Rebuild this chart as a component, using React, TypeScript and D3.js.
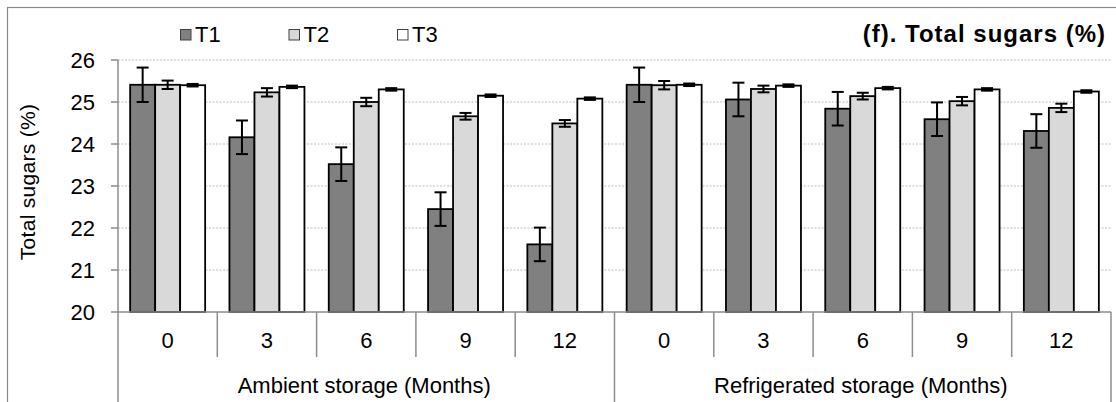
import React from "react";
import * as d3 from "d3";

const months = ["0", "3", "6", "9", "12"];
const groups = ["Ambient storage (Months)", "Refrigerated storage (Months)"];
const seriesNames = ["T1", "T2", "T3"];
const seriesColors = ["#808080", "#d9d9d9", "#ffffff"];

const t1Values = [25.41, 24.16, 23.52, 22.45, 21.61, 25.41, 25.06, 24.84, 24.59, 24.31];
const t2Values = [25.41, 25.23, 25.0, 24.66, 24.49, 25.4, 25.31, 25.14, 25.02, 24.86];
const t3Values = [25.4, 25.36, 25.3, 25.15, 25.08, 25.41, 25.39, 25.33, 25.3, 25.25];

const t1Errors = [0.41, 0.4, 0.4, 0.4, 0.4, 0.41, 0.4, 0.4, 0.4, 0.4];
const t2Errors = [0.1, 0.1, 0.1, 0.08, 0.08, 0.1, 0.08, 0.08, 0.1, 0.1];
const t3Errors = [0.03, 0.03, 0.03, 0.03, 0.03, 0.03, 0.03, 0.03, 0.03, 0.03];

const yTicks = [20, 21, 22, 23, 24, 25, 26];
const title = "(f). Total sugars (%)";
const yTitle = "Total sugars (%)";

const W = 1116;
const H = 402;
const FONT = "'Liberation Sans', Arial, sans-serif";

export default function App() {
  const left = 118;
  const right = 1111;
  const top = 60;
  const bottom = 312;

  const catKeys = d3.range(groups.length * months.length).map(String);
  const x0 = d3.scaleBand<string>().domain(catKeys).range([left, right]).padding(0);
  const x1 = d3
    .scaleBand<string>()
    .domain(seriesNames)
    .range([0, x0.bandwidth()])
    .paddingInner(0)
    .paddingOuter(0.486);
  const y = d3.scaleLinear().domain([20, 26]).range([bottom, top]);

  const values = [t1Values, t2Values, t3Values];
  const errors = [t1Errors, t2Errors, t3Errors];

  const axisColor = "#8c8c8c";
  const groupWidth = (right - left) / groups.length;

  return (
    <svg width={W} height={H} style={{ display: "block", position: "absolute", left: 0, top: 0 }} fontFamily={FONT}>
      <rect x={0} y={0} width={W} height={H} fill="#fff" />
      {/* outer border */}
      <rect x={7.5} y={7.5} width={W + 20} height={H + 20} fill="none" stroke="#8a8a8a" strokeWidth={1.2} />

      {/* gridlines */}
      {yTicks.filter((t) => t > 20).map((t) => (
        <line key={"g" + t} x1={left} x2={right} y1={y(t)} y2={y(t)} stroke="#bdbdbd" strokeWidth={1} strokeDasharray="2,1.5" />
      ))}

      {/* bars */}
      {catKeys.map((k, i) => (
        <g key={"c" + k} transform={`translate(${x0(k)},0)`}>
          {seriesNames.map((s, si) => (
            <rect
              key={s}
              x={x1(s)!}
              y={y(values[si][i])}
              width={x1.bandwidth()}
              height={y(20) - y(values[si][i])}
              fill={seriesColors[si]}
              stroke="#000"
              strokeWidth={1.8}
            />
          ))}
        </g>
      ))}

      {/* error bars */}
      {catKeys.map((k, i) => (
        <g key={"e" + k} transform={`translate(${x0(k)},0)`}>
          {seriesNames.map((s, si) => {
            const cx = x1(s)! + x1.bandwidth() / 2;
            const v = values[si][i];
            const e = errors[si][i];
            return (
              <g key={s} stroke="#000" strokeWidth={2}>
                <line x1={cx} x2={cx} y1={y(v + e)} y2={y(v - e)} />
                <line x1={cx - 6} x2={cx + 6} y1={y(v + e)} y2={y(v + e)} />
                <line x1={cx - 6} x2={cx + 6} y1={y(v - e)} y2={y(v - e)} />
              </g>
            );
          })}
        </g>
      ))}

      {/* y axis */}
      <line x1={left} x2={left} y1={top} y2={bottom} stroke={axisColor} strokeWidth={1.5} />
      {yTicks.map((t) => (
        <g key={"t" + t}>
          <line x1={left - 7} x2={left} y1={y(t)} y2={y(t)} stroke={axisColor} strokeWidth={1.5} />
          <text x={95} y={y(t)} dy="0.36em" textAnchor="end" fontSize={22} fill="#000">
            {t}
          </text>
        </g>
      ))}
      <text
        transform={`translate(35,${(top + bottom) / 2 - 4}) rotate(-90)`}
        textAnchor="middle"
        fontSize={21}
        letterSpacing={0.3}
        fill="#000"
      >
        {yTitle}
      </text>

      {/* x axis multi-level */}
      <line x1={left} x2={right} y1={bottom} y2={bottom} stroke={axisColor} strokeWidth={1.5} />
      {catKeys.map((k, i) => (
        <g key={"x" + k}>
          {i % months.length !== 0 && (
            <line x1={x0(k)!} x2={x0(k)!} y1={bottom} y2={357} stroke={axisColor} strokeWidth={1.5} />
          )}
          <text x={x0(k)! + x0.bandwidth() / 2} y={348} textAnchor="middle" fontSize={22} fill="#000">
            {months[i % months.length]}
          </text>
        </g>
      ))}
      {d3.range(groups.length + 1).map((gi) => (
        <line
          key={"gs" + gi}
          x1={left + gi * groupWidth}
          x2={left + gi * groupWidth}
          y1={bottom}
          y2={H}
          stroke={axisColor}
          strokeWidth={1.5}
        />
      ))}
      {groups.map((g, gi) => (
        <text key={g} x={left + (gi + 0.5) * groupWidth - 2} y={393} textAnchor="middle" fontSize={22} fill="#000">
          {g}
        </text>
      ))}

      {/* legend */}
      {seriesNames.map((s, si) => (
        <g key={"l" + s} transform={`translate(${180 + si * 108.5},0)`}>
          <rect x={0.5} y={29.5} width={10.5} height={10.5} fill={seriesColors[si]} stroke="#404040" strokeWidth={1} />
          <text x={15} y={42} fontSize={22} fill="#000">
            {s}
          </text>
        </g>
      ))}

      {/* title */}
      <text x={1106} y={42} textAnchor="end" fontSize={24} fontWeight="bold" letterSpacing={1} fill="#000">
        {title}
      </text>
    </svg>
  );
}
